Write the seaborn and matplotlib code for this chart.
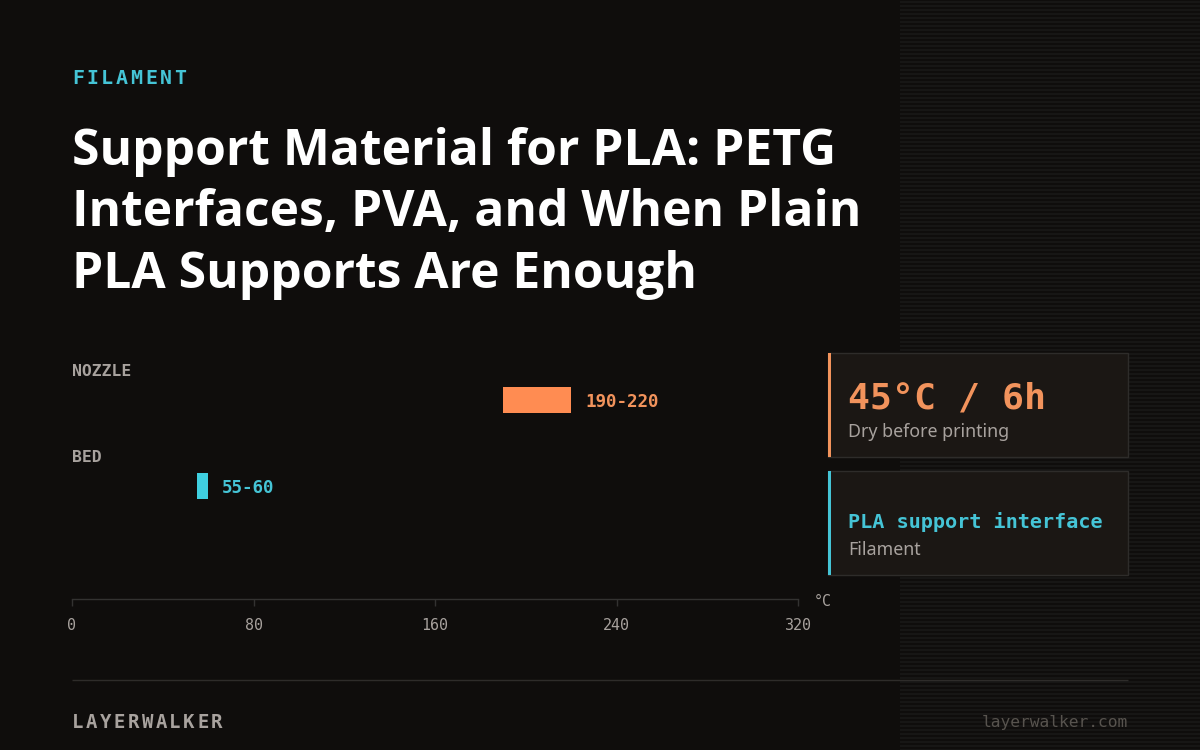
"""
Filament card: nozzle / bed temperature ranges with side stat panels.
"""

import matplotlib
matplotlib.use("Agg")
import matplotlib.pyplot as plt
import pandas as pd
import seaborn as sns
from matplotlib.patches import Rectangle
from matplotlib.text import Text

# data
materials = ["NOZZLE", "BED"]
range_low = [190, 55]
range_high = [220, 60]
range_labels = ["190-220", "55-60"]
bar_colors = ["#ff8c52", "#3fcfe0"]
label_colors = ["#f2935c", "#45c4d6"]
x_ticks = [0, 80, 160, 240, 320]
title_lines = ["Support Material for PLA: PETG",
               "Interfaces, PVA, and When Plain",
               "PLA Supports Are Enough"]

BG = "#0f0d0c"
PANEL = "#1b1714"
EDGE = "#2e2c2a"
MUTED = "#a8a29e"
MONO = "DejaVu Sans Mono"
SANS = "Noto Sans"
TITLE_FONT = "Open Sans"


class SpacedText(Text):
    """Text with fixed letter advance (matplotlib has no letter-spacing)."""

    def __init__(self, *args, advance=10, **kwargs):
        super().__init__(*args, **kwargs)
        self.advance = advance

    def draw(self, renderer):
        s = self.get_text()
        x0 = self.get_position()[0]
        for i, ch in enumerate(s):
            self.set_text(ch)
            self.set_x(x0 + i * self.advance)
            super().draw(renderer)
        self.set_text(s)
        self.set_x(x0)


def px(size):
    return size * 0.72


sns.set_theme(style="dark", rc={"figure.facecolor": BG, "axes.facecolor": "none"})

fig = plt.figure(figsize=(12, 7.5), dpi=100)

# page layer in pixel coords
page = fig.add_axes([0, 0, 1, 1], zorder=0)
page.set_xlim(0, 1200)
page.set_ylim(750, 0)
page.axis("off")

# stripes on right side, under the panels
page.hlines([y + 0.5 for y in range(1, 750, 4)], 900, 1200, color="#171615", lw=1.44, zorder=0)

# header
page.add_artist(SpacedText(72, 78, "FILAMENT", advance=14.6, color="#45c4d6", family=MONO,
                           weight="bold", fontsize=px(20), va="center", ha="left"))
for i, line in enumerate(title_lines):
    page.text(72, 165 + i * 61.4, line, color="white", family=TITLE_FONT, weight="bold",
              fontsize=px(49.7), va="baseline", ha="left")

# chart
chart_left, chart_right, chart_top, chart_bottom = 72, 798, 355, 599
ax = fig.add_axes([chart_left / 1200, 1 - chart_bottom / 750,
                   (chart_right - chart_left) / 1200, (chart_bottom - chart_top) / 750],
                  zorder=1)
df = pd.DataFrame({"material": materials, "low": range_low, "high": range_high})
df["span"] = df["high"] - df["low"]
for i, row in df.iterrows():
    sns.barplot(data=df[df["material"] == row["material"]], x="span", y="material",
                order=materials, left=row["low"], color=bar_colors[i], saturation=1,
                width=26 / 86, ax=ax, errorbar=None, linewidth=0, edgecolor="none")
ax.set_xlim(0, 320)
ax.set_ylim((chart_bottom - 400) / 86, (chart_top - 400) / 86)
ax.set_xticks(x_ticks)
ax.set_xticklabels(x_ticks, family=MONO, fontsize=px(15), color=MUTED)
ax.tick_params(axis="x", length=5, width=1, color="#333231", pad=9, bottom=True)
ax.set_yticks([])
ax.set_xlabel("")
ax.set_ylabel("")
sns.despine(ax=ax, left=True, top=True, right=True)
ax.spines["bottom"].set_color("#333231")
ax.spines["bottom"].set_linewidth(1)
ax.patch.set_alpha(0)

# value labels, category labels
for i, m in enumerate(materials):
    ax.annotate(range_labels[i], (range_high[i], i), xytext=(10, -1.3), textcoords="offset points",
                color=label_colors[i], family=MONO, weight="bold", fontsize=px(17.5),
                va="center", ha="left")
    page.text(72, 371 + i * 86, m, color=MUTED, family=MONO, weight="bold",
              fontsize=px(16.4), va="center", ha="left")
page.text(814, 602, "°C", color=MUTED, family=MONO, fontsize=px(15), va="center", ha="left")

# side panels
for top, accent in [(353, "#f2935c"), (471, "#45c4d6")]:
    page.add_patch(Rectangle((828, top), 300, 104, fc=PANEL, ec=EDGE, lw=1))
    page.add_patch(Rectangle((828, top), 3, 104, fc=accent, ec="none"))
page.text(848, 399, "45°C / 6h", color="#f2935c", family=MONO, weight="bold",
          fontsize=px(36.5), va="center", ha="left")
page.text(848, 432, "Dry before printing", color=MUTED, family=SANS,
          fontsize=px(17.8), va="center", ha="left")
page.text(848, 522, "PLA support interface", color="#45c4d6", family=MONO, weight="bold",
          fontsize=px(20.2), va="center", ha="left")
page.text(848, 550, "Filament", color=MUTED, family=SANS,
          fontsize=px(17.8), va="center", ha="left")

# footer
page.hlines(680, 72, 1128, color="#2e2c2a", lw=1)
page.add_artist(SpacedText(72, 722, "LAYERWALKER", advance=13.9, color=MUTED, family=MONO,
                           weight="bold", fontsize=px(19), va="center", ha="left"))
page.text(1128, 723, "layerwalker.com", color="#57534e", family=MONO,
          fontsize=px(16.3), va="center", ha="right")

fig.savefig("out.png", dpi=100, facecolor=BG)
